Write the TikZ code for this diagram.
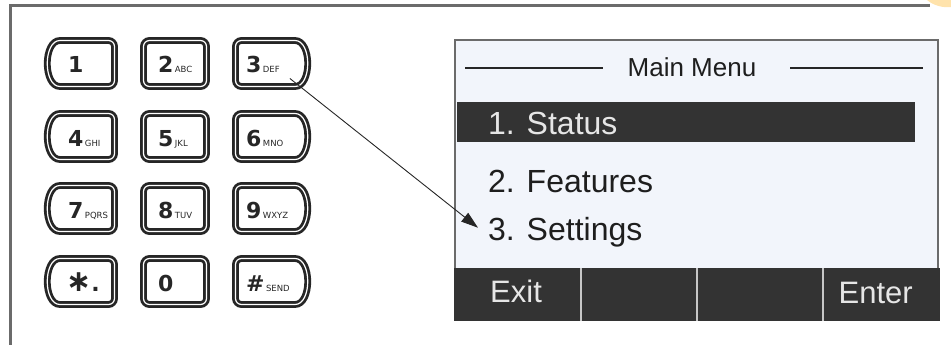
\documentclass[tikz,border=0pt]{standalone}
\usepackage{fontspec}
\setmainfont{Liberation Sans}
\newfontfamily\keyfont{DejaVu Sans}
\usetikzlibrary{arrows.meta}
\definecolor{framegray}{HTML}{6B6B6B}
\definecolor{keyline}{HTML}{262626}
\definecolor{screenbg}{HTML}{F2F5FB}
\definecolor{barfill}{HTML}{333333}
\definecolor{menutext}{HTML}{1E1E1E}
\definecolor{softtext}{HTML}{E6E6E6}
\definecolor{blob}{HTML}{FFE3AC}
\newcommand{\keylab}[2]{#1{\fontsize{8.5}{8.5}\mdseries\selectfont\,#2}}

\begin{document}
\begin{tikzpicture}[x=1pt,y=-1pt,
  keyedge/.style={draw=keyline, line width=2.8pt, double=white, double distance=1.2pt},
  keylabel/.style={anchor=base west, inner sep=0pt, text=keyline, font=\keyfont\bfseries\fontsize{22}{22}\selectfont},
  menuitem/.style={anchor=base west, inner sep=0pt, text=menutext, font=\fontsize{32}{32}\selectfont},
  softkey/.style={anchor=base, inner sep=0pt, text=softtext, font=\fontsize{31}{31}\selectfont}]

\useasboundingbox (0,0) rectangle (951,345);

% outer frame
\draw[framegray, line width=3pt] (10.5,345) -- (10.5,5.5) -- (930,5.5);
\fill[blob] (927,0) .. controls (934,6) and (944,8) .. (951,7) -- (951,0) -- cycle;

% keypad outlines, one row at a time
\foreach \t in {37,110,182,255} {
  \draw[keyedge, rounded corners=6pt] (66,\t+49.5) .. controls (43,\t+49.5) and (43,\t+3.5) .. (66,\t+3.5)
    -- (114.5,\t+3.5) -- (114.5,\t+49.5) -- cycle; % left key
  \draw[keyedge, rounded corners=6pt] (143.5,\t+3.5) rectangle (206.5,\t+49.5); % middle key
  \draw[keyedge, rounded corners=6pt] (289,\t+3.5) .. controls (312,\t+3.5) and (312,\t+49.5) .. (289,\t+49.5)
    -- (235.5,\t+49.5) -- (235.5,\t+3.5) -- cycle; % right key
}

% keypad labels
\node[keylabel] (k1) at (68,73) {1};
\node[keylabel] (k2) at (158,73) {\keylab{2}{ABC}};
\node[keylabel] (k3) at (246,73) {\keylab{3}{DEF}};
\node[keylabel] (k4) at (68,146) {\keylab{4}{GHI}};
\node[keylabel] (k5) at (158,146) {\keylab{5}{JKL}};
\node[keylabel] (k6) at (246,146) {\keylab{6}{MNO}};
\node[keylabel] (k7) at (68,218) {\keylab{7}{PQRS}};
\node[keylabel] (k8) at (158,218) {\keylab{8}{TUV}};
\node[keylabel] (k9) at (246,218) {\keylab{9}{WXYZ}};
\node[keylabel] (kstar) at (66,291) {{\fontsize{30}{30}\selectfont ∗}.};
\node[keylabel] (k0) at (158,291) {0};
\node[keylabel] (khash) at (246,291) {\keylab{\#}{SEND}};

% screen
\draw[framegray, line width=2.5pt, fill=screenbg] (455,40) rectangle (938,320);
\node[inner sep=0pt, anchor=base, text=menutext, font=\fontsize{26}{26}\selectfont] (title) at (692,77) {Main Menu};
\draw[keyline, line width=1.3pt] (465,68) -- (603,68);
\draw[keyline, line width=1.3pt] (790,68) -- (923,68);
\fill[barfill] (457,102) rectangle (915,142); % highlight
\node[menuitem, text=softtext] (stat) at (488,135) {1. Status};
\node[menuitem] (feat) at (488,192) {2. Features};
\node[menuitem] (set) at (488,240) {3. Settings};

% soft keys
\fill[barfill] (454,268) rectangle (939.5,321);
\draw[white!78!black, line width=2pt] (581,268) -- (581,321);
\draw[white!78!black, line width=2pt] (697,268) -- (697,321);
\draw[white!78!black, line width=2pt] (823,268) -- (823,321);
\node[softkey, anchor=base west] (exit) at (490,302) {Exit};
\node[softkey, anchor=base east] (enter) at (913,303) {Enter};

% arrow
\draw[keyline, line width=0.9pt, -{Triangle[length=17pt,width=11pt]}]
  ([shift={(10,5)}]k3.south east) -- ([xshift=-10pt,yshift=4pt]set.west);
\end{tikzpicture}
\end{document}
